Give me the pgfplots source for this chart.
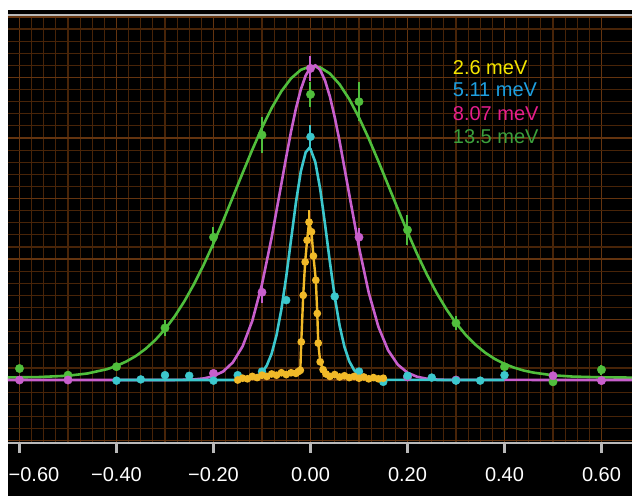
\documentclass[border=0pt]{standalone}
\usepackage{fontspec}
\setmainfont{Liberation Sans}
\usepackage{pgfplots}
\pgfplotsset{compat=1.18}
\definecolor{gcol}{RGB}{80,190,60}
\definecolor{mcol}{RGB}{200,95,205}
\definecolor{ccol}{RGB}{60,200,205}
\definecolor{ycol}{RGB}{240,185,40}
\definecolor{tyel}{RGB}{245,230,0}
\definecolor{tblu}{RGB}{30,160,225}
\definecolor{tmag}{RGB}{230,30,140}
\definecolor{tgrn}{RGB}{60,160,60}
\definecolor{gridmaj}{RGB}{100,52,15}
\definecolor{gridmin}{RGB}{72,36,8}
\definecolor{framec}{RGB}{185,185,185}
\begin{document}
\begin{tikzpicture}
\useasboundingbox (0,0) rectangle (632bp,496bp);
\fill[white] (0,0) rectangle (632bp,496bp);
\fill[black] (8bp,0) rectangle (632bp,486bp);
\begin{axis}[
  at={(8bp,53bp)}, anchor=south west,
  scale only axis, width=624bp, height=428bp,
  xmin=-0.6237, xmax=0.6629, ymin=-1.041, ymax=6.033,
  xtick={-0.6,-0.4,-0.2,0,0.2,0.4,0.6},
  xticklabels={\hspace*{29bp}−0.60,−0.40,−0.20,0.00,0.20,0.40,0.60},
  minor x tick num=7,
  ytick={-1,0,1,2,3,4,5,6}, minor y tick num=4, yticklabels={},
  grid=both,
  major grid style={draw=gridmaj, line width=1.4bp},
  minor grid style={draw=gridmin, line width=1.2bp},
  separate axis lines,
  x axis line style={draw=framec, line width=2bp},
  y axis line style={draw=none},
  xtick pos=left,
  tick align=outside,
  major tick length=10bp,
  minor tick length=0bp,
  major x tick style={draw=framec, line width=3bp},
  ytick style={draw=none},
  xticklabel style={text=white, font=\fontsize{20bp}{24bp}\selectfont, yshift=-11bp},
]
% green 13.5 meV fit
\addplot[gcol, line width=2.6bp] coordinates {
(-0.624,0.042) (-0.56,0.049) (-0.50,0.071) (-0.46,0.108) (-0.42,0.178) (-0.40,0.233)
(-0.38,0.305) (-0.36,0.397) (-0.34,0.515) (-0.32,0.661) (-0.30,0.839) (-0.28,1.052)
(-0.26,1.302) (-0.24,1.588) (-0.22,1.908) (-0.20,2.260) (-0.18,2.634) (-0.16,3.025)
(-0.14,3.420) (-0.12,3.806) (-0.10,4.170) (-0.08,4.496) (-0.06,4.772) (-0.04,4.986)
(-0.02,5.126) (0.00,5.187) (0.02,5.167) (0.04,5.065) (0.06,4.887) (0.08,4.641)
(0.10,4.338) (0.12,3.992) (0.14,3.615) (0.16,3.223) (0.18,2.829) (0.20,2.445)
(0.22,2.080) (0.24,1.744) (0.26,1.440) (0.28,1.172) (0.30,0.941) (0.32,0.746)
(0.34,0.584) (0.36,0.453) (0.38,0.348) (0.40,0.266) (0.42,0.204) (0.44,0.156)
(0.46,0.122) (0.50,0.078) (0.54,0.057) (0.60,0.044) (0.663,0.040)
};
\addplot[gcol, only marks, mark=*, mark size=4.2bp,
  error bars/.cd, y dir=both, y explicit, error mark=none,
  error bar style={gcol, line width=2bp}]
  table[x=x, y=y, y error=e] {
x y e
-0.60 0.19 0.06
-0.50 0.08 0.05
-0.40 0.22 0.06
-0.30 0.86 0.14
-0.20 2.36 0.17
-0.10 4.05 0.29
0.00 4.72 0.21
0.10 4.60 0.32
0.20 2.48 0.25
0.30 0.94 0.12
0.40 0.22 0.06
0.50 -0.03 0.05
0.60 0.17 0.08
};
% magenta 8.07 meV fit
\addplot[mcol, line width=2.6bp] coordinates {
(-0.624,0) (-0.28,0.001) (-0.26,0.004) (-0.24,0.010) (-0.22,0.026) (-0.20,0.063)
(-0.18,0.141) (-0.16,0.292) (-0.14,0.556) (-0.12,0.977) (-0.10,1.582) (-0.08,2.360)
(-0.06,3.244) (-0.05,3.689) (-0.04,4.111) (-0.03,4.488) (-0.02,4.800) (-0.01,5.031)
(0.00,5.166) (0.01,5.200) (0.02,5.124) (0.03,4.949) (0.04,4.684) (0.05,4.343)
(0.06,3.946) (0.08,3.064) (0.10,2.192) (0.12,1.446) (0.14,0.879) (0.16,0.492)
(0.18,0.254) (0.20,0.121) (0.22,0.053) (0.24,0.021) (0.26,0.008) (0.28,0.002)
(0.663,0)
};
\addplot[mcol, only marks, mark=*, mark size=4.2bp,
  error bars/.cd, y dir=both, y explicit, error mark=none,
  error bar style={mcol, line width=2bp}]
  table[x=x, y=y, y error=e] {
x y e
-0.60 0.00 0.04
-0.50 0.00 0.04
-0.20 0.11 0.05
-0.10 1.45 0.17
0.00 5.15 0.20
0.10 2.36 0.15
0.20 0.05 0.05
0.30 0.00 0.04
0.50 0.07 0.06
0.60 -0.01 0.04
};
% cyan 5.11 meV fit
\addplot[ccol, line width=2.6bp] coordinates {
(-0.40,0) (-0.15,0.001) (-0.14,0.004) (-0.13,0.011) (-0.12,0.026) (-0.11,0.059)
(-0.10,0.123) (-0.09,0.241) (-0.08,0.439) (-0.07,0.743) (-0.06,1.169) (-0.05,1.709)
(-0.04,2.323) (-0.03,2.935) (-0.02,3.446) (-0.01,3.762) (-0.003,3.830) (0.00,3.817)
(0.01,3.601) (0.02,3.157) (0.03,2.573) (0.04,1.950) (0.05,1.373) (0.06,0.899)
(0.07,0.547) (0.08,0.309) (0.09,0.163) (0.10,0.080) (0.11,0.036) (0.12,0.015)
(0.13,0.006) (0.14,0.002) (0.40,0)
};
\addplot[ccol, only marks, mark=*, mark size=4bp,
  error bars/.cd, y dir=both, y explicit, error mark=none,
  error bar style={ccol, line width=2bp}]
  table[x=x, y=y, y error=e] {
x y e
-0.40 -0.01 0.03
-0.35 0.01 0.03
-0.30 0.08 0.03
-0.25 0.07 0.03
-0.20 -0.01 0.03
-0.15 0.08 0.03
-0.10 0.14 0.03
-0.05 1.32 0.05
0.00 4.02 0.20
0.05 1.38 0.05
0.10 0.14 0.03
0.15 -0.03 0.03
0.20 0.07 0.03
0.25 0.04 0.03
0.30 -0.01 0.03
0.35 -0.01 0.03
0.40 0.08 0.03
};
% yellow 2.6 meV
\addplot[ycol, line width=2.4bp, mark=*, mark size=2.6bp] coordinates {
(-0.150,0.00) (-0.140,0.03) (-0.130,0.02) (-0.120,0.06) (-0.110,0.04) (-0.100,0.08)
(-0.090,0.06) (-0.080,0.10) (-0.070,0.08) (-0.060,0.12) (-0.050,0.09) (-0.040,0.12)
(-0.030,0.11) (-0.025,0.14) (-0.021,0.16) (-0.019,0.63) (-0.015,1.40) (-0.011,1.95)
(-0.007,2.31) (-0.003,2.61) (0.002,2.45) (0.006,2.05) (0.011,1.65) (0.014,1.10)
(0.016,0.61) (0.020,0.30) (0.026,0.17) (0.032,0.10) (0.040,0.06) (0.050,0.09)
(0.060,0.05) (0.070,0.07) (0.080,0.04) (0.090,0.06) (0.100,0.03) (0.110,0.05)
(0.120,0.02) (0.130,0.04) (0.140,0.02) (0.150,0.03)
};
\addplot[ycol, only marks, mark=*, mark size=3bp,
  error bars/.cd, y dir=both, y explicit, error mark=none,
  error bar style={ycol, line width=2bp}]
  table[x=x, y=y, y error=e] {
x y e
-0.003 2.61 0.20
};
\node[anchor=base west, inner sep=0pt, text=tyel, font=\fontsize{20bp}{24bp}\selectfont] at (axis cs:0.2932,5.046) {2.6 meV};
\node[anchor=base west, inner sep=0pt, text=tblu, font=\fontsize{20bp}{24bp}\selectfont] at (axis cs:0.2932,4.678) {5.11 meV};
\node[anchor=base west, inner sep=0pt, text=tmag, font=\fontsize{20bp}{24bp}\selectfont] at (axis cs:0.2932,4.291) {8.07 meV};
\node[anchor=base west, inner sep=0pt, text=tgrn, font=\fontsize{20bp}{24bp}\selectfont] at (axis cs:0.2932,3.906) {13.5 meV};
\end{axis}
\end{tikzpicture}
\end{document}
